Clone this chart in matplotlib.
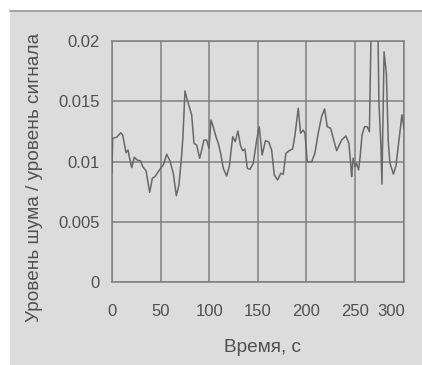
import matplotlib
matplotlib.use("Agg")
import matplotlib.pyplot as plt
import matplotlib.transforms as mtrans
from matplotlib.patches import Rectangle
from matplotlib.lines import Line2D

time_s = [0, 0.7, 4.8, 9.0, 11.0, 14.4, 16.5, 17.8, 20.3, 22.9, 26.0, 29.5, 31.6, 35.0,
          38.8, 41.5, 44.2, 48.7, 52.8, 56.3, 59.7, 63.1, 66.2, 68.9, 71.7, 73.0, 75.1,
          77.5, 79.5, 82.0, 84.4, 87.1, 90.2, 92.3, 94.6, 97.4, 99.8, 101.9, 104.2, 107.0,
          109.4, 111.8, 114.5, 118.0, 120.7, 124.2, 126.8, 129.6, 132.4, 134.5, 136.8,
          139.2, 142.0, 145.4, 148.9, 151.5, 154.5, 157.9, 161.2, 164.3, 167.0, 170.5,
          173.6, 176.2, 179.0, 182.4, 185.9, 188.3, 191.7, 194.1, 196.8, 198.6, 200.9,
          205.5, 208.8, 212.2, 215.7, 218.8, 221.5, 225.0, 227.7, 231.2, 236.3, 240.7,
          243.8, 245.9, 246.6, 248.2, 250.3, 251.7, 253.8, 255.5, 257.3, 259.9, 262.6,
          264.9, 270.6, 274.7, 276.8, 277.8, 280.0, 282.4, 284.3, 286.0, 289.6, 292.2,
          295.6, 298.4, 299.7, 300.5]
noise_ratio = [0.0091, 0.01193, 0.01201, 0.01239, 0.0122, 0.01073, 0.01095, 0.0104,
               0.00949, 0.01035, 0.01012, 0.01004, 0.00957, 0.00924, 0.00744, 0.00861,
               0.00874, 0.00929, 0.00971, 0.0106, 0.01004, 0.00902, 0.00716, 0.00805,
               0.01054, 0.01206, 0.01585, 0.0151, 0.01455, 0.01386, 0.01151, 0.01137,
               0.01027, 0.01095, 0.01178, 0.01178, 0.0111, 0.01344, 0.01289, 0.01206,
               0.01151, 0.01068, 0.00944, 0.0088, 0.00957, 0.01206, 0.01164, 0.01253,
               0.01129, 0.0109, 0.01104, 0.00944, 0.00935, 0.00985, 0.01178, 0.01289,
               0.01054, 0.01172, 0.01164, 0.01095, 0.00888, 0.00846, 0.00902, 0.00894,
               0.01068, 0.0109, 0.01104, 0.0122, 0.01442, 0.01234, 0.01261, 0.01234,
               0.00998, 0.00998, 0.01068, 0.01234, 0.01372, 0.01436, 0.01289, 0.01276,
               0.01193, 0.0109, 0.01178, 0.01212, 0.01151, 0.00957, 0.00874, 0.01027,
               0.00957, 0.00985, 0.0093, 0.0105, 0.0122, 0.01289, 0.01289, 0.01247,
               0.040, 0.01496, 0.01123, 0.00813, 0.01909, 0.01726, 0.0117, 0.00988,
               0.00896, 0.00963, 0.01195, 0.01388, 0.0132, 0.01278]

x_ticks = [0, 50, 100, 150, 200, 250, 300]
x_tick_labels = ["0", "50", "100", "150", "200", "250", "300"]
y_ticks = [0, 0.005, 0.01, 0.015, 0.02]
y_tick_labels = ["0", "0.005", "0.01", "0.015", "0.02"]
x_title = "Время, с"
y_title = "Уровень шума / уровень сигнала"

W, H = 422, 365
fig = plt.figure(figsize=(W / 100, H / 100), dpi=100)
fig.patch.set_facecolor("white")

panel_col = "#dcdcdc"
fig.patches.append(Rectangle((10 / W, 0), 1 - 10 / W, 1 - 10 / H, transform=fig.transFigure,
                             facecolor=panel_col, edgecolor="none", zorder=0))
fig.lines.append(Line2D([10 / W, 1], [1 - 10.5 / H, 1 - 10.5 / H], transform=fig.transFigure,
                        color="#9a9a9a", linewidth=1.2, zorder=1))

ax = fig.add_axes([112 / W, 1 - 282 / H, (403.5 - 112) / W, (282 - 41) / H])
ax.set_zorder(5)
ax.set_facecolor(panel_col)
ax.plot(time_s, noise_ratio, color="#686868", linewidth=1.1, zorder=3)
ax.set_xlim(0, 300)
ax.set_ylim(0, 0.02)

grid_col = "#808080"
ax.set_xticks(x_ticks)
ax.set_yticks(y_ticks)
ax.grid(True, color=grid_col, linewidth=1.1)
for s in ax.spines.values():
    s.set_color(grid_col)
    s.set_linewidth(1.1)

font = "Liberation Sans"
txt_col = "#505050"
ax.set_yticklabels(y_tick_labels, fontsize=12, family=font, color=txt_col)
ax.set_xticklabels(x_tick_labels, fontsize=12, family=font, color=txt_col)
ax.tick_params(axis="both", length=0)
ax.tick_params(axis="y", pad=9)
ax.tick_params(axis="x", pad=16)
lbls = ax.get_xticklabels()
lbls[-1].set_horizontalalignment("right")
lbls[-1].set_transform(lbls[-1].get_transform() + mtrans.ScaledTranslation(2 / 100, 0, fig.dpi_scale_trans))

fig.text(262 / W, 1 - 347 / H, x_title, fontsize=13.7, family=font, color=txt_col,
         ha="center", va="center", zorder=6)
fig.text(35 / W, 1 - 177.5 / H, y_title, fontsize=13.7, family=font, color=txt_col,
         ha="center", va="center", rotation=90, zorder=6)

fig.savefig("out.png", dpi=100)
